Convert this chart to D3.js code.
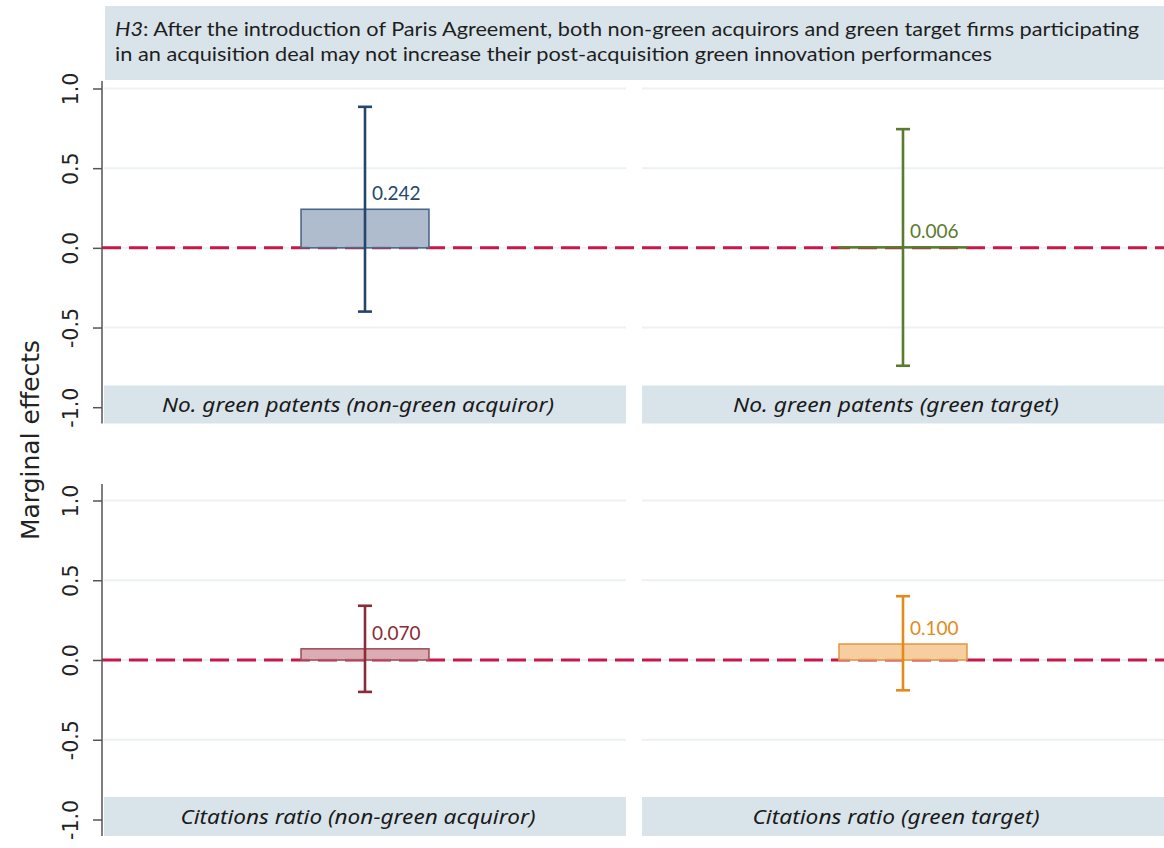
<!DOCTYPE html>
<html>
<head>
<meta charset="utf-8">
<script src="https://cdn.jsdelivr.net/npm/d3@7"></script>
<style>
  html, body { margin: 0; padding: 0; background: #ffffff; }
  svg { display: block; }
</style>
</head>
<body>
<svg id="chart" width="1164" height="848"></svg>
<script>
// Outcome measures (rows) and firm groups (columns)
const outcomes = ["No. green patents", "Citations ratio"];
const groups = ["non-green acquiror", "green target"];

// Estimated marginal effects per panel, row-major order
const estimates = [0.242, 0.006, 0.070, 0.100];
const ciLower = [-0.40, -0.74, -0.20, -0.19];
const ciUpper = [0.885, 0.745, 0.34, 0.40];
const valueLabels = ["0.242", "0.006", "0.070", "0.100"];

// Axis ticks
const yTicks = [-1, -0.5, 0, 0.5, 1];

// Panel colours: error bar / label, bar fill, bar outline
const lineColors = ["#23476b", "#5a7a2d", "#8a2b37", "#e28b1c"];
const fillColors = ["#a3b3c6", "#b7c99a", "#d6a2a7", "#f5c792"];
const edgeColors = ["#4c6886", "#5a7a2d", "#a0525b", "#e39a48"];

// Widths the strip captions are set to, row-major order
const stripTextWidths = [392, 326, 355, 287];

const titleLine1 = ": After the introduction of Paris Agreement, both non-green acquirors and green target firms participating";
const titleLine2 = "in an acquisition deal may not increase their post-acquisition green innovation performances";

const svg = d3.select("#chart");
svg.append("rect").attr("width", 1164).attr("height", 848).attr("fill", "#ffffff");

const stripFill = "#d9e4ea";
const locale = d3.formatLocale({decimal: ".", thousands: ",", grouping: [3], currency: ["", ""], minus: "-"});
const fmt = locale.format(".1f");

// Column bands shared by both rows
const x = d3.scaleBand().domain(groups).range([104, 1164]).paddingInner(0.0297);
const barW = x.bandwidth() * 0.245;

// Row layouts
const rows = [
  {y: d3.scaleLinear().domain([-1, 1]).range([407.2, 88.5]), axisTop: 81, axisBot: 423.5, stripTop: 385.5, stripBot: 423.5},
  {y: d3.scaleLinear().domain([-1, 1]).range([819.5, 500.5]), axisTop: 484, axisBot: 836, stripTop: 797, stripBot: 836}
];

function fitWidth(sel, w) {
  const n = sel.node();
  const cur = n.getComputedTextLength();
  if (Math.abs(cur - w) > 2) sel.attr("textLength", w).attr("lengthAdjust", "spacingAndGlyphs");
}

// Title box
svg.append("rect").attr("x", 105).attr("y", 6).attr("width", 1164 - 105).attr("height", 74).attr("fill", stripFill);
const t1 = svg.append("text").attr("x", 115).attr("y", 36)
  .attr("font-family", "Lato, 'Open Sans', sans-serif").attr("font-size", 19).attr("fill", "#1e1e1e");
t1.append("tspan").attr("font-style", "italic").text("H3");
t1.append("tspan").text(titleLine1);
const t2 = svg.append("text").attr("x", 115).attr("y", 61)
  .attr("font-family", "Lato, 'Open Sans', sans-serif").attr("font-size", 19).attr("fill", "#1e1e1e")
  .text(titleLine2);
fitWidth(t1, 1024);
fitWidth(t2, 877);

rows.forEach((row, r) => {
  const y = row.y;
  const g = svg.append("g");

  // light horizontal grid inside each panel
  groups.forEach(grp => {
    g.selectAll(null).data(yTicks).join("line")
      .attr("x1", x(grp)).attr("x2", x(grp) + x.bandwidth())
      .attr("y1", d => y(d)).attr("y2", d => y(d))
      .attr("stroke", "#edf1f3").attr("stroke-width", 2);
  });

  // zero reference line
  g.append("line")
    .attr("x1", 102).attr("x2", 1164)
    .attr("y1", y(0)).attr("y2", y(0))
    .attr("stroke", "#c8174b").attr("stroke-width", 3)
    .attr("stroke-dasharray", "19 8");

  // strips with the panel names
  groups.forEach((grp, c) => {
    g.append("rect")
      .attr("x", x(grp)).attr("y", row.stripTop)
      .attr("width", x.bandwidth()).attr("height", row.stripBot - row.stripTop)
      .attr("fill", stripFill);
    const lbl = g.append("text")
      .attr("x", x(grp) + x.bandwidth() / 2 - 7)
      .attr("y", (row.stripTop + row.stripBot) / 2 + 7)
      .attr("text-anchor", "middle")
      .attr("font-family", "'Noto Sans', sans-serif").attr("font-style", "italic")
      .attr("font-size", 20).attr("fill", "#1a1a1a")
      .text(`${outcomes[r]} (${grp})`);
    fitWidth(lbl, stripTextWidths[r * 2 + c]);
  });

  // bars, error bars and value labels
  groups.forEach((grp, c) => {
    const i = r * 2 + c;
    const cx = x(grp) + x.bandwidth() / 2;
    const est = estimates[i];
    g.append("rect")
      .attr("x", cx - barW / 2)
      .attr("y", y(Math.max(est, 0)))
      .attr("width", barW)
      .attr("height", Math.abs(y(est) - y(0)))
      .attr("fill", fillColors[i]).attr("fill-opacity", 0.88)
      .attr("stroke", edgeColors[i]).attr("stroke-width", 1.6);

    const eb = g.append("g").attr("stroke", lineColors[i]).attr("stroke-width", 2.6);
    eb.append("line").attr("x1", cx).attr("x2", cx).attr("y1", y(ciUpper[i])).attr("y2", y(ciLower[i]));
    [ciUpper[i], ciLower[i]].forEach(v => {
      eb.append("line").attr("x1", cx - 7).attr("x2", cx + 7).attr("y1", y(v)).attr("y2", y(v));
    });

    g.append("text")
      .attr("x", cx + 7).attr("y", y(est) - 9)
      .attr("font-family", "Lato, 'Open Sans', sans-serif").attr("font-size", 19)
      .attr("fill", lineColors[i])
      .text(valueLabels[i]);
  });

  // left axis with rotated labels
  const ax = svg.append("g").attr("transform", "translate(102,0)")
    .call(d3.axisLeft(y).tickValues(yTicks).tickFormat(fmt).tickSize(9).tickSizeOuter(0));
  ax.select(".domain").remove();
  ax.selectAll(".tick line").attr("stroke", "#555").attr("stroke-width", 1.5);
  ax.selectAll(".tick text")
    .attr("transform", "rotate(-90)")
    .attr("x", 0).attr("y", -31).attr("dy", null)
    .attr("text-anchor", "middle").attr("dominant-baseline", "central")
    .attr("font-family", "'DejaVu Sans', sans-serif").attr("font-size", 20.5)
    .attr("fill", "#222");
  svg.append("line")
    .attr("x1", 102).attr("x2", 102)
    .attr("y1", row.axisTop).attr("y2", row.axisBot)
    .attr("stroke", "#555").attr("stroke-width", 1.5);
});

// shared y-axis title
svg.append("text")
  .attr("transform", "translate(30,440) rotate(-90)")
  .attr("text-anchor", "middle").attr("dominant-baseline", "central")
  .attr("font-family", "'DejaVu Sans', sans-serif").attr("font-size", 25)
  .attr("fill", "#222")
  .text("Marginal effects");
</script>
</body>
</html>
